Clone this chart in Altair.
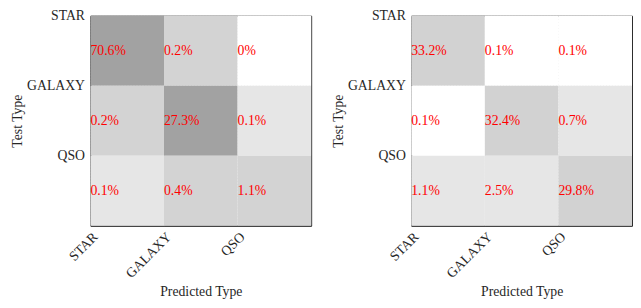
import altair as alt
import pandas as pd

classes = ["STAR", "GALAXY", "QSO"]

# rows = test type, cols = predicted type
left_values = [[70.6, 0.2, 0.0],
               [0.2, 27.3, 0.1],
               [0.1, 0.4, 1.1]]
left_shades = [["dark", "mid", "white"],
               ["mid", "dark", "light"],
               ["light", "mid", "mid"]]

right_values = [[33.2, 0.1, 0.1],
                [0.1, 32.4, 0.7],
                [1.1, 2.5, 29.8]]
right_shades = [["mid2", "white", "white"],
                ["white", "mid2", "light"],
                ["light", "light", "mid2"]]

shade_names = ["dark", "mid", "mid2", "light", "white"]
shade_colors = ["#a2a2a2", "#d3d3d3", "#d2d2d2", "#e6e6e6", "#ffffff"]

FONT = "Liberation Serif"


def frame(values, shades):
    rows = []
    for r in range(3):
        for c in range(3):
            rows.append({"row": r, "row1": r + 1, "rowm": r + 0.5,
                         "col": c, "col1": c + 1,
                         "v": values[r][c], "shade": shades[r][c]})
    return pd.DataFrame(rows)


label_expr = "datum.value == 0 ? 'STAR' : datum.value == 1 ? 'GALAXY' : 'QSO'"


def panel(values, shades):
    df = frame(values, shades)
    xs = alt.Scale(domain=[0, 3], nice=False, zero=False)
    ys = alt.Scale(domain=[0, 3], nice=False, zero=False, reverse=True)
    xaxis = alt.Axis(values=[0, 1, 2], labelExpr=label_expr, labelAngle=315,
                     title="Predicted Type", ticks=False, labelPadding=4,
                     titlePadding=5)
    yaxis = alt.Axis(values=[0, 1, 2], labelExpr=label_expr,
                     title="Test Type", ticks=False, labelPadding=6,
                     titlePadding=2)
    base = alt.Chart(df)
    rect = base.mark_rect(strokeWidth=0).encode(
        x=alt.X("col:Q", scale=xs, axis=xaxis),
        x2="col1:Q",
        y=alt.Y("row:Q", scale=ys, axis=yaxis),
        y2="row1:Q",
        color=alt.Color("shade:N", scale=alt.Scale(domain=shade_names, range=shade_colors),
                        legend=None),
    )
    text = base.transform_calculate(
        label="datum.v == 0 ? '0%' : format(datum.v, '.1f') + '%'"
    ).mark_text(align="left", baseline="middle", dx=0, font=FONT, fontSize=14,
                color="#ff0000").encode(
        x=alt.X("col:Q", scale=xs),
        y=alt.Y("rowm:Q", scale=ys),
        text="label:N",
    )
    return alt.layer(rect, text).properties(width=225, height=214)


chart = alt.hconcat(panel(left_values, left_shades),
                    panel(right_values, right_shades),
                    spacing=19).properties(
    padding={"top": -3, "left": 2, "right": 0, "bottom": -1}
).configure_view(
    stroke="#262626", strokeWidth=1
).configure_axis(
    labelFont=FONT, titleFont=FONT, labelFontSize=14, titleFontSize=14,
    labelColor="#262626", titleColor="#262626", titleFontWeight="normal",
    domainColor="#262626", domainWidth=1,
    grid=True, gridColor="#c8c8c8", gridDash=[1, 2], gridWidth=1, gridOpacity=1,
    zindex=1,
)

chart.save("out.html", embed_options={"renderer": "svg", "actions": False})
